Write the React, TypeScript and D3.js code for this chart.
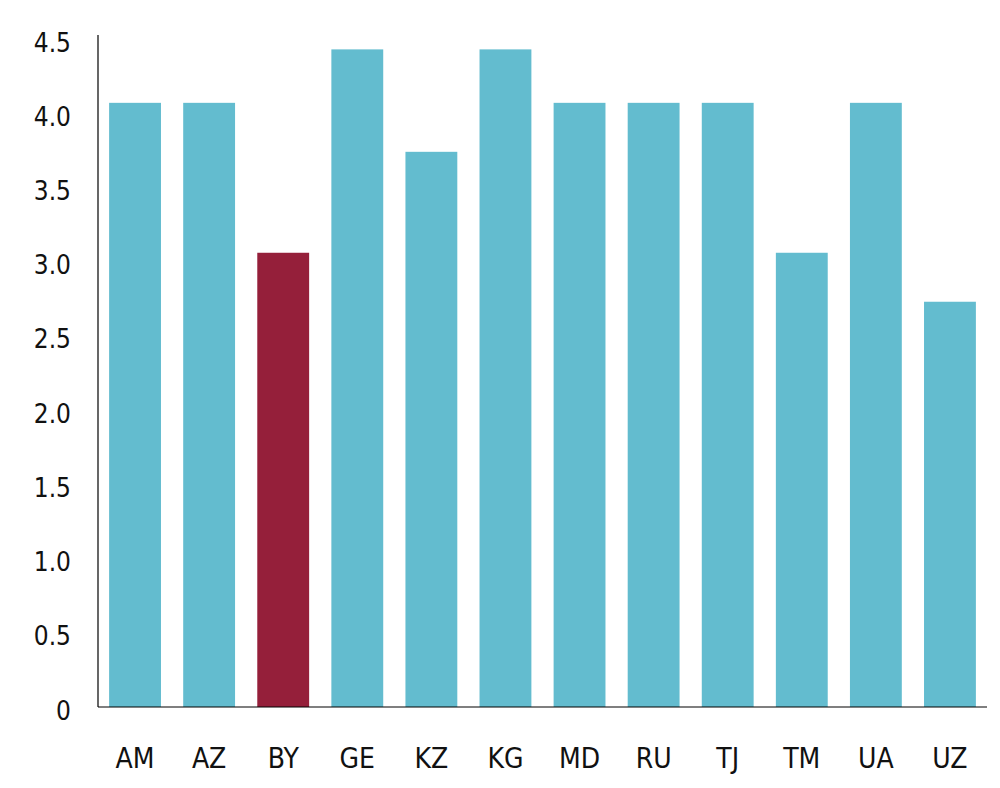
import React from "react";
import * as d3 from "d3";

const categories = ["AM", "AZ", "BY", "GE", "KZ", "KG", "MD", "RU", "TJ", "TM", "UA", "UZ"];
const values = [4.07, 4.07, 3.06, 4.43, 3.74, 4.43, 4.07, 4.07, 4.07, 3.06, 4.07, 2.73];
const highlight = ["BY"];
const yTicks = [0, 0.5, 1.0, 1.5, 2.0, 2.5, 3.0, 3.5, 4.0, 4.5];

const W = 1000;
const H = 788;
const left = 98;
const right = 987;
const top = 35;
const bottom = 707;

export default function App() {
  const x = d3.scaleBand<string>().domain(categories).range([left, right]).paddingInner(0.3).paddingOuter(0.15);
  const y = d3.scaleLinear().domain([0, 4.5]).range([bottom, 39]);
  const font = "'DejaVu Sans Condensed', 'DejaVu Sans', sans-serif";
  return (
    <svg width={W} height={H} style={{ position: "absolute", left: 0, top: 0, background: "#fff" }}>
      {categories.map((c, i) => (
        <rect
          key={c}
          x={x(c)!}
          y={y(values[i])}
          width={x.bandwidth()}
          height={y(0) - y(values[i])}
          fill={highlight.includes(c) ? "#951F3A" : "#63BCCF"}
        />
      ))}
      <line x1={left} x2={left} y1={top} y2={bottom} stroke="#000" strokeWidth={1.2} />
      <line x1={left} x2={right} y1={bottom} y2={bottom} stroke="#000" strokeWidth={1.2} />
      {yTicks.map((t) => (
        <text
          key={t}
          x={71}
          y={y(t) + 3.5}
          textAnchor="end"
          dominantBaseline="central"
          fontFamily={font}
          fontSize={26}
          fill="#111"
        >
          {t === 0 ? "0" : d3.format(".1f")(t)}
        </text>
      ))}
      {categories.map((c) => (
        <text
          key={c}
          x={x(c)! + x.bandwidth() / 2}
          y={768}
          textAnchor="middle"
          fontFamily={font}
          fontSize={28}
          fill="#111"
        >
          {c}
        </text>
      ))}
    </svg>
  );
}
